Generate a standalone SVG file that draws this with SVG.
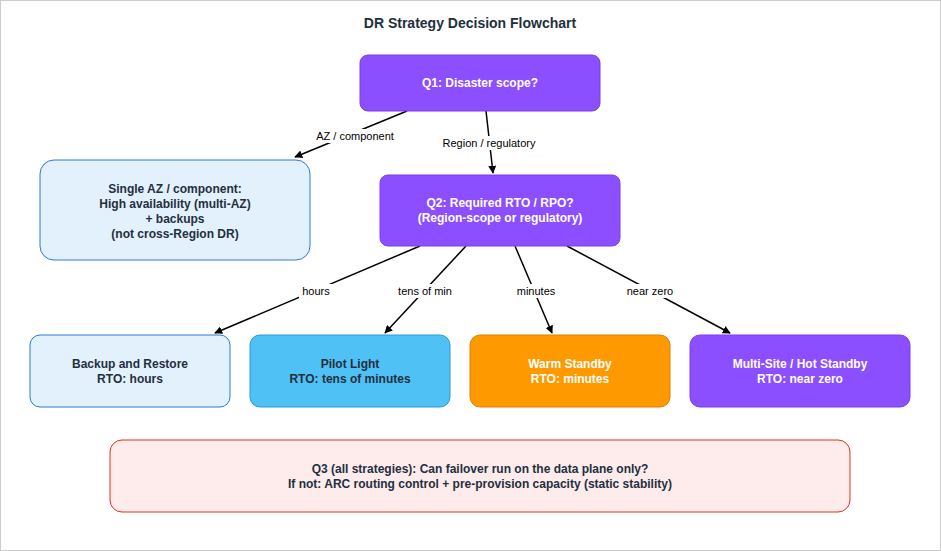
<svg xmlns="http://www.w3.org/2000/svg" width="941" height="551" viewBox="0 0 941 551">
<style>
text{font-family:"Liberation Sans",Arial,sans-serif;font-size:12px;font-weight:bold;text-anchor:middle}
.w{fill:#fff}.d{fill:#232f3e}
.lbl{font-weight:normal;font-size:11px;fill:#000}
.e{stroke:#000;stroke-width:1.5;fill:none;marker-end:url(#a)}
.lb{fill:#fff}
</style>
<defs><marker id="a" viewBox="0 0 10 10" refX="9" refY="5" markerWidth="8" markerHeight="8" orient="auto" markerUnits="userSpaceOnUse"><path d="M0,0L10,5L0,10z" fill="#000"/></marker></defs>
<rect x="0.5" y="0.5" width="940" height="550" fill="#fff" stroke="#ccc"/>
<text x="470" y="28" class="d" style="font-size:14px">DR Strategy Decision Flowchart</text>
<g id="edges">
<path class="e" d="M407,111L295,157"/>
<path class="e" d="M486,111L493,173"/>
<path class="e" d="M420,246L215,333"/>
<path class="e" d="M466,246L385,333"/>
<path class="e" d="M515,246L552,333"/>
<path class="e" d="M567,246L730,333"/>
<rect class="lb" x="314" y="129" width="82" height="14"/><text class="lbl" x="355" y="140">AZ / component</text>
<rect class="lb" x="440" y="136" width="98" height="14"/><text class="lbl" x="489" y="147">Region / regulatory</text>
<rect class="lb" x="299" y="284" width="34" height="14"/><text class="lbl" x="316" y="295">hours</text>
<rect class="lb" x="396" y="284" width="58" height="14"/><text class="lbl" x="425" y="295">tens of min</text>
<rect class="lb" x="514" y="284" width="44" height="14"/><text class="lbl" x="536" y="295">minutes</text>
<rect class="lb" x="624" y="284" width="52" height="14"/><text class="lbl" x="650" y="295">near zero</text>
</g>
<g id="q1"><rect x="360" y="55" width="240" height="56" rx="8" fill="#8c4fff" stroke="#7a3fe6"/><text class="w" x="480" y="87">Q1: Disaster scope?</text></g>
<g id="single"><rect x="40" y="160" width="270" height="100" rx="14" fill="#e3f1fc" stroke="#2a7ad8"/>
<text class="d" x="175" y="193">Single AZ / component:</text><text class="d" x="175" y="208">High availability (multi-AZ)</text><text class="d" x="175" y="223">+ backups</text><text class="d" x="175" y="238">(not cross-Region DR)</text></g>
<g id="q2"><rect x="380" y="175" width="240" height="71" rx="8" fill="#8c4fff" stroke="#7a3fe6"/><text class="w" x="500" y="207">Q2: Required RTO / RPO?</text><text class="w" x="500" y="222">(Region-scope or regulatory)</text></g>
<g id="backup"><rect x="30" y="335" width="200" height="72" rx="10" fill="#e3f1fc" stroke="#2a7ad8"/><text class="d" x="130" y="368">Backup and Restore</text><text class="d" x="130" y="383">RTO: hours</text></g>
<g id="pilot"><rect x="250" y="335" width="200" height="72" rx="10" fill="#4fc1f5" stroke="#2a9ad8"/><text class="d" x="350" y="368">Pilot Light</text><text class="d" x="350" y="383">RTO: tens of minutes</text></g>
<g id="warm"><rect x="470" y="335" width="200" height="72" rx="10" fill="#ff9900" stroke="#d98200"/><text class="w" x="570" y="368">Warm Standby</text><text class="w" x="570" y="383">RTO: minutes</text></g>
<g id="multi"><rect x="690" y="335" width="220" height="72" rx="10" fill="#8c4fff" stroke="#7a3fe6"/><text class="w" x="800" y="368">Multi-Site / Hot Standby</text><text class="w" x="800" y="383">RTO: near zero</text></g>
<g id="q3"><rect x="110" y="440" width="740" height="72" rx="12" fill="#fdeceb" stroke="#e0321e"/><text class="d" x="480" y="473">Q3 (all strategies): Can failover run on the data plane only?</text><text class="d" x="480" y="488">If not: ARC routing control + pre-provision capacity (static stability)</text></g>
</svg>
